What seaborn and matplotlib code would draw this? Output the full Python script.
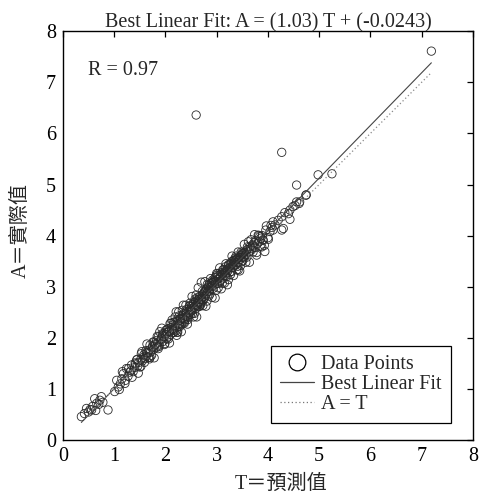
import matplotlib
matplotlib.use("Agg")
import matplotlib.pyplot as plt
import seaborn as sns
import numpy as np
import pandas as pd
from matplotlib.lines import Line2D

# ---------------- data ----------------
T_low = [0.36,0.42,0.46,0.50,0.53,0.56,0.58,0.62,0.64,0.66,0.70,0.72,0.75,0.78,0.88,1.01,1.05,1.08,1.12,1.15,1.18,1.21,1.24,1.27,1.30]
A_low = [0.46,0.52,0.62,0.55,0.60,0.59,0.66,0.81,0.58,0.72,0.70,0.78,0.85,0.74,0.59,0.95,1.17,1.04,1.10,1.20,1.30,1.11,1.40,1.25,1.33]

T_b1 = [1.33,1.34,1.37,1.40,1.42,1.44,1.46,1.48,1.50,1.52,1.54,1.55,1.57,1.58,1.60,1.62,1.63,1.65,1.67,1.68,1.70,1.71,1.73,1.74,1.76,1.77,1.79,1.80,1.82,1.83,1.85,1.86,1.88,1.89,1.91,1.92,1.94,1.95,1.97,1.99]
A_b1 = [1.36,1.47,1.34,1.42,1.49,1.57,1.45,1.52,1.43,1.58,1.73,1.55,1.62,1.67,1.60,1.64,1.71,1.70,1.62,1.76,1.86,1.72,1.66,1.80,1.92,1.78,1.84,1.88,1.81,1.95,1.90,2.02,1.86,2.12,1.96,1.99,2.04,1.93,2.08,1.89]

T_b2 = [2.00,2.01,2.02,2.03,2.05,2.06,2.07,2.09,2.10,2.11,2.12,2.14,2.15,2.16,2.18,2.19,2.20,2.21,2.22,2.23,2.25,2.26,2.27,2.28,2.29,2.30,2.32,2.33,2.34,2.35,2.36,2.38,2.39,2.40,2.41,2.42,2.44,2.45,2.46,2.47,2.48,2.50,2.51,2.52,2.53,2.54,2.55,2.56,2.58,2.59,2.60,2.61,2.62,2.63,2.64,2.65,2.66,2.67,2.68,2.69]
A_b2 = [2.06,2.15,1.98,2.10,2.18,2.02,2.13,2.28,2.07,2.20,2.16,2.10,2.25,2.30,2.18,2.41,2.24,2.14,2.05,2.33,2.22,2.51,2.29,2.22,2.38,2.36,2.27,2.44,2.39,2.64,2.31,2.35,2.48,2.46,2.42,2.56,2.40,2.45,2.53,2.62,2.50,2.57,2.61,2.55,2.48,2.66,2.69,2.60,2.63,2.72,2.58,2.64,2.78,2.67,2.75,2.70,2.62,2.81,2.74,2.68]

T_b3 = [2.70,2.71,2.72,2.73,2.74,2.75,2.77,2.78,2.79,2.80,2.81,2.82,2.84,2.85,2.86,2.87,2.88,2.90,2.91,2.92,2.93,2.94,2.96,2.97,2.98,3.00,3.01,3.02,3.03,3.05,3.06,3.07,3.08,3.10,3.11,3.12,3.13,3.15,3.16,3.17,3.18,3.20,3.21,3.22,3.23,3.25,3.26,3.27,3.29,3.30,3.31,3.32,3.34,3.35,3.36,3.37,3.38,3.40,3.41,3.42]
A_b3 = [2.77,2.71,2.84,2.80,2.75,2.88,3.10,2.82,2.93,2.87,2.96,2.90,2.99,3.03,2.92,3.06,2.98,3.00,3.08,3.13,3.02,3.11,3.05,3.18,3.09,3.26,3.14,3.07,3.21,3.17,3.10,3.24,3.20,3.28,3.15,3.33,3.25,3.22,3.30,3.39,3.27,3.20,3.35,3.31,3.42,3.36,3.29,3.45,3.49,3.38,3.44,3.41,3.50,3.47,3.56,3.43,3.52,3.55,3.48,3.33]

T_b4 = [3.44,3.45,3.47,3.48,3.49,3.50,3.52,3.53,3.55,3.56,3.58,3.59,3.60,3.62,3.63,3.65,3.66,3.68,3.70,3.71,3.73,3.75,3.76,3.78,3.80,3.81,3.83,3.84,3.86,3.88,3.90,3.91,3.94,3.97,4.01]
A_b4 = [3.58,3.53,3.61,3.57,3.49,3.64,3.65,3.60,3.67,3.62,3.70,3.58,3.73,3.88,3.68,3.78,3.75,3.72,3.82,3.80,3.86,3.77,3.90,3.62,3.85,4.01,3.88,3.98,3.95,3.78,3.92,3.91,3.69,4.19,3.93]

T_high = [4.04,4.08,4.10,4.10,4.14,4.20,4.27,4.27,4.30,4.33,4.40,4.43,4.43,4.49,4.53,4.56,4.56,4.61,4.62,4.74,4.75,4.98,5.25,7.19,2.60,4.27]
A_high = [4.08,4.16,4.27,4.11,4.21,4.30,4.37,4.11,4.14,4.45,4.43,4.32,4.50,4.57,4.59,4.66,4.99,4.63,4.66,4.79,4.80,5.19,5.21,7.61,6.36,5.63]

T_wide = [1.10,1.16,1.22,1.28,1.35,1.41,1.47,1.53,1.59,1.64,1.69,1.75,1.78,1.84,1.87,1.93,1.98,2.04,2.08,2.13,2.17,2.21,2.24,2.27,2.31,2.35,2.37,2.40,2.43,2.47,2.49,2.52,2.55,2.58,2.61,2.64,2.67,2.70,2.73,2.76,2.79,2.82,2.85,2.88,2.91,2.94,2.97,3.00,3.03,3.06,3.09,3.12,3.15,3.18,3.21,3.24,3.27,3.30,3.33,3.36,3.39,3.42,3.45,3.48,3.51,3.54,3.57,3.60,3.64,3.67,3.71,3.74,3.78,3.82,3.85,3.89,3.93,3.96,4.00,4.06]
A_wide = [0.99,1.34,1.17,1.40,1.23,1.51,1.31,1.69,1.52,1.88,1.59,1.84,1.61,2.03,1.83,2.19,1.87,2.17,1.90,2.35,2.11,2.51,2.11,2.43,2.12,2.47,2.29,2.64,2.27,2.62,2.46,2.81,2.41,2.76,2.41,2.98,2.62,3.09,2.63,2.90,2.62,3.05,2.82,3.16,2.79,3.11,2.78,3.22,2.98,3.37,2.96,3.26,3.07,3.45,3.04,3.44,3.24,3.60,3.22,3.53,3.33,3.68,3.31,3.68,3.51,3.83,3.48,3.78,3.48,3.92,3.68,4.02,3.67,4.00,3.79,4.00,3.81,4.11,3.96,4.20]

T_mid = [2.02,2.06,2.11,2.15,2.19,2.23,2.26,2.30,2.33,2.37,2.41,2.44,2.48,2.51,2.54,2.57,2.60,2.63,2.66,2.69,2.72,2.75,2.78,2.81,2.84,2.87,2.90,2.93,2.96,2.99,3.02,3.05,3.08,3.11,3.14,3.17,3.20,3.23,3.26,3.29,3.32,3.35,3.38,3.41,3.44,3.47,3.50,3.53,1.62,1.70,1.78,1.86,1.94,1.45,1.52]
A_mid = [2.11,1.98,2.29,2.15,2.32,2.11,2.33,2.27,2.54,2.37,2.52,2.36,2.68,2.53,2.64,2.48,2.84,2.63,2.76,2.65,2.91,2.77,2.91,2.72,2.92,2.86,3.08,2.97,3.09,2.93,3.26,3.07,3.19,3.07,3.34,3.21,3.33,3.14,3.36,3.30,3.51,3.41,3.60,3.40,3.57,3.42,3.66,3.57,1.75,1.62,1.92,1.79,2.08,1.58,1.44]

fit_slope = 1.03
fit_intercept = -0.0243
r_value = 0.97

title_text = "Best Linear Fit: A = (1.03) T + (-0.0243)"
xlabel_text = "T＝預測值"
ylabel_text = "A＝實際值"
legend_labels = ["Data Points", "Best Linear Fit", "A = T"]
ticks = [0, 1, 2, 3, 4, 5, 6, 7, 8]

# ---------------- plot ----------------
T = np.array(T_low + T_b1 + T_b2 + T_b3 + T_b4 + T_high + T_wide + T_mid)
A = np.array(A_low + A_b1 + A_b2 + A_b3 + A_b4 + A_high + A_wide + A_mid)
df = pd.DataFrame({"T": T, "A": A})

sns.set_theme(style="white")
fam = ["Liberation Serif", "Noto Sans CJK TC", "DejaVu Sans"]
plt.rcParams["font.family"] = fam
plt.rcParams["axes.unicode_minus"] = False
FS = 14.5

fig = plt.figure(figsize=(4.84, 5.03), dpi=100)
ax = fig.add_axes([0.130, 0.125, 0.847, 0.813])

sns.scatterplot(data=df, x="T", y="A", ax=ax, marker="o", s=36,
                facecolor="none", edgecolor="#2a2a2a", linewidth=0.6, zorder=2)

tmin, tmax = T.min(), T.max()
xs = np.array([tmin, tmax])
ax.plot(xs, fit_slope * xs + fit_intercept, color="#444444", lw=0.8, zorder=3)
ax.plot(xs, xs, color="#888888", lw=0.9, ls=(0, (1, 2)), zorder=3)

ax.set_xlim(0, 8)
ax.set_ylim(0, 8)
ax.set_xticks(ticks)
ax.set_yticks(ticks)
ax.tick_params(direction="in", length=4.5, width=0.9, top=True, right=True,
               labelsize=FS, colors="black")
ax.tick_params(axis="x", pad=5)
ax.tick_params(axis="y", pad=5)
for lab in ax.get_xticklabels() + ax.get_yticklabels():
    lab.set_family(fam)
for sp in ax.spines.values():
    sp.set_color("black")
    sp.set_linewidth(1.0)

ax.set_title(title_text, fontsize=FS, pad=3, family=fam)
ax.set_xlabel(xlabel_text, fontsize=FS, family=fam)
ax.set_ylabel(ylabel_text, fontsize=FS, family=fam)
ax.xaxis.set_label_coords(0.532, -0.085)
ax.yaxis.set_label_coords(-0.078, 0.513)
ax.text(0.06, 0.905, f"R = {r_value:.2f}", transform=ax.transAxes,
        fontsize=FS, family=fam, va="center", ha="left")

handles = [
    Line2D([], [], marker="o", ls="none", markersize=12, markerfacecolor="none",
           markeredgecolor="black", markeredgewidth=0.9),
    Line2D([], [], color="#444444", lw=0.9),
    Line2D([], [], color="#777777", lw=0.9, ls=(0, (1, 2))),
]
leg = ax.legend(handles, legend_labels, loc="lower right",
                bbox_to_anchor=(0.946, 0.042), fontsize=FS, frameon=True,
                fancybox=False, framealpha=1, edgecolor="black",
                borderpad=0.45, handlelength=1.7, handletextpad=0.35,
                labelspacing=0.05, borderaxespad=0)
leg.get_frame().set_linewidth(0.9)
for t in leg.get_texts():
    t.set_family(fam)

fig.savefig("out.png", dpi=100)
